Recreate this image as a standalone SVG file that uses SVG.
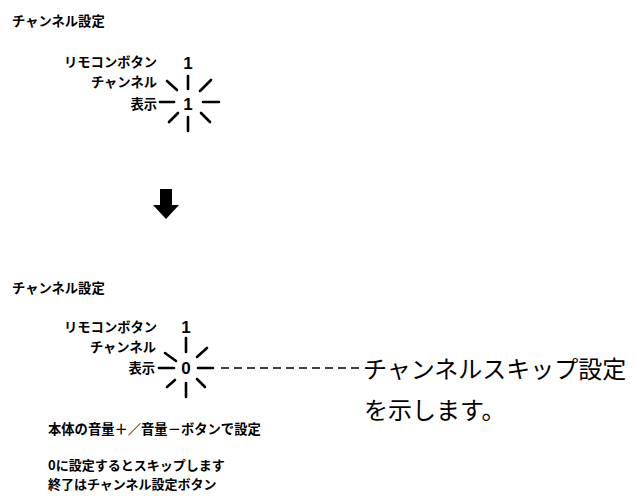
<svg xmlns="http://www.w3.org/2000/svg" width="637" height="498" viewBox="0 0 637 498">
<style>
.lbl{font-family:"Noto Sans CJK JP","Noto Sans",sans-serif;font-weight:700;font-size:13.3px;fill:#000}
.sm{font-size:13px}
.big{font-family:"Noto Sans CJK JP","Noto Sans",sans-serif;font-weight:400;font-size:24px;fill:#000}
.dig{font-family:"Liberation Sans","DejaVu Sans",sans-serif;font-weight:700;font-size:17px;fill:#000}
.ray{stroke:#000;stroke-width:2.6;stroke-linecap:round;fill:none}
.dash{stroke:#000;stroke-width:1.6;stroke-dasharray:8 5;fill:none}
</style>
<rect width="637" height="498" fill="#fff"/>

<g id="step1">
<text class="lbl" x="12" y="26">チャンネル設定</text>
<text class="lbl" x="64" y="67">リモコンボタン</text>
<text class="dig" x="188" y="69" text-anchor="middle">1</text>
<text class="lbl" x="157" y="87" text-anchor="end">チャンネル</text>
<text class="lbl" x="157" y="109" text-anchor="end">表示</text>
<text class="dig" x="188" y="110" text-anchor="middle">1</text>
<g id="blink1">
<line class="ray" x1="188" y1="76" x2="188" y2="89"/>
<line class="ray" x1="188" y1="117" x2="188" y2="131"/>
<line class="ray" x1="167" y1="81" x2="177" y2="90"/>
<line class="ray" x1="200" y1="91" x2="211" y2="80"/>
<line class="ray" x1="160" y1="102" x2="174" y2="102"/>
<line class="ray" x1="203" y1="102" x2="219" y2="102"/>
<line class="ray" x1="169" y1="122" x2="178" y2="113"/>
<line class="ray" x1="201" y1="113" x2="210" y2="122"/>
</g>
</g>

<g id="arrow">
<rect x="160" y="189" width="12" height="17" fill="#000"/>
<polygon points="153,205 179,205 166,219" fill="#000"/>
</g>

<g id="step2">
<text class="lbl" x="12" y="293">チャンネル設定</text>
<text class="lbl" x="64" y="332">リモコンボタン</text>
<text class="dig" x="186" y="333" text-anchor="middle">1</text>
<text class="lbl" x="156" y="352" text-anchor="end">チャンネル</text>
<text class="lbl" x="155" y="373" text-anchor="end">表示</text>
<text class="dig" x="186" y="374" text-anchor="middle">0</text>
<g id="blink2">
<line class="ray" x1="186" y1="338" x2="186" y2="352"/>
<line class="ray" x1="186" y1="383" x2="186" y2="397"/>
<line class="ray" x1="165" y1="353" x2="176" y2="361"/>
<line class="ray" x1="197" y1="357" x2="207" y2="348"/>
<line class="ray" x1="159" y1="368" x2="174" y2="368"/>
<line class="ray" x1="198" y1="368" x2="213" y2="368"/>
<line class="ray" x1="167" y1="387" x2="175" y2="380"/>
<line class="ray" x1="197" y1="379" x2="205" y2="387"/>
</g>
<text class="lbl" x="48" y="434">本体の音量＋／音量－ボタンで設定</text>
<text class="lbl sm" x="48" y="470">0に設定するとスキップします</text>
<text class="lbl sm" x="48" y="489">終了はチャンネル設定ボタン</text>
</g>

<g id="connectors">
<line class="dash" x1="221" y1="368" x2="362" y2="368"/>
</g>

<g id="note">
<text class="big" x="363" y="378">チャンネルスキップ設定</text>
<text class="big" x="364" y="419">を示します。</text>
</g>
</svg>
